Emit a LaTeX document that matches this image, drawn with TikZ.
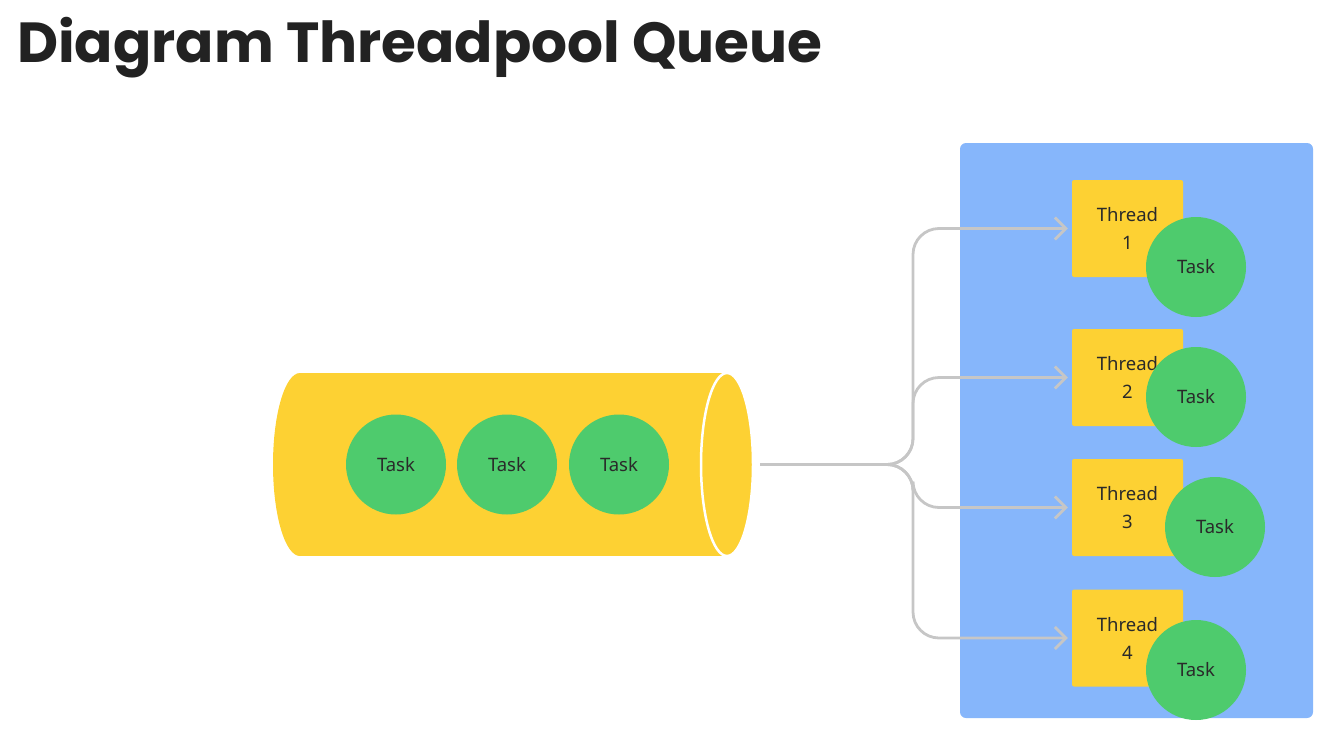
\documentclass[tikz,border=0pt]{standalone}
\usepackage{fontspec}
\setmainfont{Noto Sans}
\newfontfamily\titlefont{Poppins}
\usetikzlibrary{arrows.meta}

\definecolor{qyellow}{HTML}{FDD133}
\definecolor{tgreen}{HTML}{4ECB6D}
\definecolor{pblue}{HTML}{86B6FB}
\definecolor{cgray}{HTML}{C6C6C6}
\definecolor{ink}{HTML}{2A2A2A}

\tikzset{
  task/.style={circle,fill=tgreen,minimum size=100pt,inner sep=0pt,
    text=ink,font=\fontsize{18.5}{22}\selectfont},
  threadbox/.style={rectangle,rounded corners=2pt,fill=qyellow,minimum width=111pt,
    minimum height=97pt,align=center,text=ink,font=\fontsize{18.5}{28}\selectfont},
  conn/.style={cgray,line width=2.8pt,rounded corners=26pt,
    -{Straight Barb[length=11pt,width=22pt,line width=2.8pt]},shorten >=4pt}
}

\begin{document}
\begin{tikzpicture}[x=1pt,y=-1pt]
  \useasboundingbox (0,0) rectangle (1344,734);

  % title
  \node[anchor=base west,inner sep=0pt,text=ink!80!black,
    font=\titlefont\bfseries\fontsize{56.5}{62}\selectfont] (title) at (17,62) {Diagram Threadpool Queue};

  % queue
  \fill[qyellow] (300,464.5) ellipse[x radius=27,y radius=91.5];
  \fill[qyellow] (300,373) rectangle (727,556);
  \filldraw[qyellow,draw=white,line width=2.5pt] (727,464.5) ellipse[x radius=26,y radius=91.5];
  \coordinate (qout) at (760,464.5);
  \foreach \i/\x in {1/396,2/507,3/619}
    \node[task] (q\i) at (\x,464.5) {Task};

  % thread pool
  \fill[pblue,rounded corners=6pt] (960,143) rectangle (1313,718);
  \foreach \i/\y/\tx/\ty in {1/228.5/1196/267,2/377.5/1196/397,3/507.5/1215/527,4/638/1196/670}{
    \node[threadbox] (t\i) at (1127.5,\y) {Thread\\\i};
    \node[task] (k\i) at (\tx,\ty) {Task};
    \draw[conn] (qout) -- (913,464.5) |- (t\i.west);
  }
\end{tikzpicture}
\end{document}
